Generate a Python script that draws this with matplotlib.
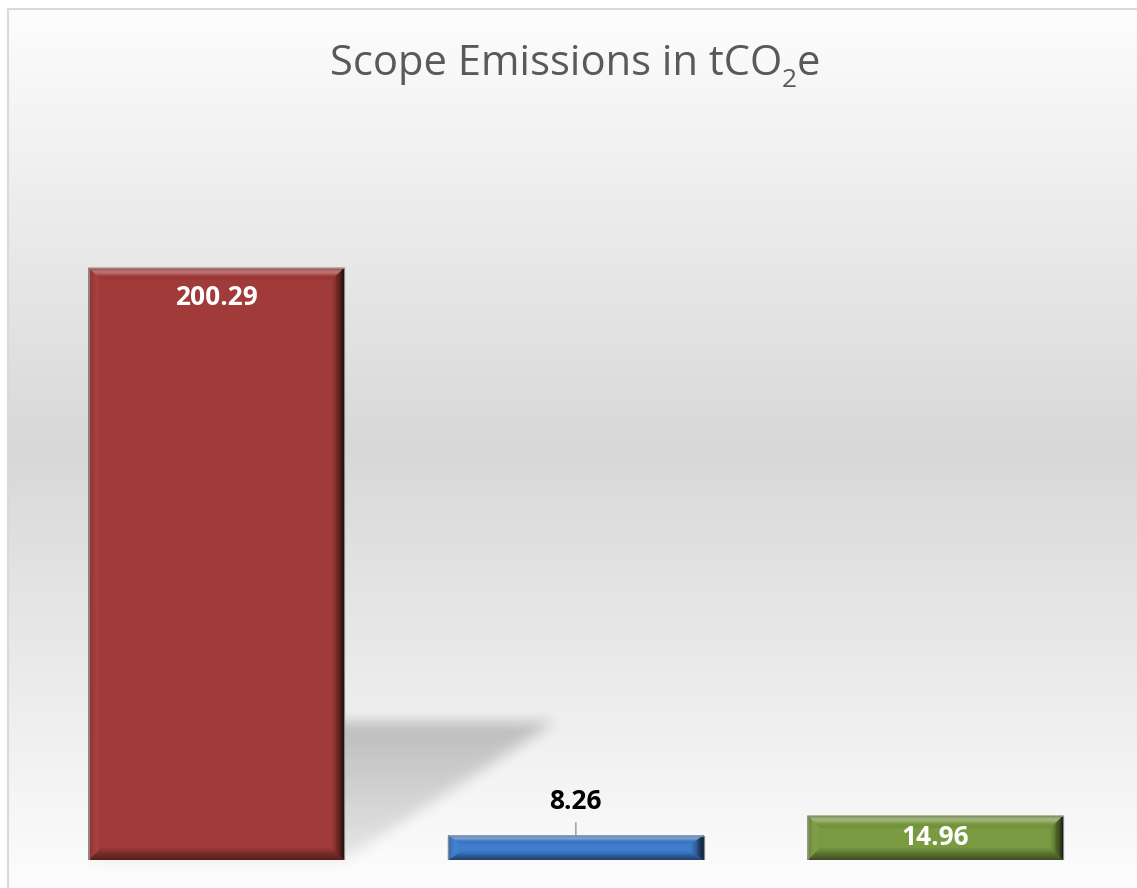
import numpy as np
import matplotlib.pyplot as plt
from matplotlib.patches import Polygon
from matplotlib.path import Path
from matplotlib.lines import Line2D
from matplotlib.transforms import IdentityTransform
import matplotlib.colors as mcolors

plt.rcParams['font.family'] = ['Open Sans', 'DejaVu Sans']

# chart data
categories = ['Scope 1', 'Scope 2', 'Scope 3']
values = [200.29, 8.26, 14.96]
bar_colors = ['#A03B39', '#3F7CCB', '#7A9A41']
label_colors = ['white', 'black', 'white']
title_parts = ['Scope Emissions in tCO', '2', 'e']

W, H = 1137, 888
fig = plt.figure(figsize=(W / 100, H / 100), dpi=100)
ax = fig.add_axes([36.75 / W, 28 / H, 1078.25 / W, 739 / H])
ax.set_xlim(-0.5, 2.5)
ax.set_ylim(0, 250)
ax.axis('off')


def shade(c, amt):
    rgb = np.array(mcolors.to_rgb(c))
    if amt >= 0:
        return tuple(rgb + (1 - rgb) * amt)
    return tuple(rgb * (1 + amt))


def blur1d(a, r, axis):
    a = np.moveaxis(a, axis, -1)
    p = np.pad(a, [(0, 0)] * (a.ndim - 1) + [(r + 1, r)], mode='edge')
    c = np.cumsum(p, axis=-1)
    out = (c[..., 2 * r + 1:] - c[..., :-2 * r - 1]) / (2 * r + 1)
    return np.moveaxis(out, -1, axis)


# background: white -> gray -> white, inside a thin frame
rows = np.arange(H)
t = np.clip((rows - 10) / (H - 10), 0, 1)
g = np.interp(t, [0, 0.5, 1], [253, 216, 253]) / 255
bg = np.ones((H, W, 3))
bg[10:, 9:, :] = g[10:, None, None]
fig.figimage(bg, 0, 0, origin='upper', zorder=-3)
fig.add_artist(Line2D([7.5 / W, 1], [1 - 9 / H, 1 - 9 / H], transform=fig.transFigure,
                      color='#d9d9d9', lw=1.5))
fig.add_artist(Line2D([8 / W, 8 / W], [0, 1 - 9 / H], transform=fig.transFigure,
                      color='#d9d9d9', lw=1.5))

bars = ax.bar(range(len(values)), values, width=0.711, color=bar_colors,
              edgecolor='#808080', linewidth=0.8, zorder=2)

# perspective shadow behind the first bar
b0 = bars[0]
sx0, sy0 = ax.transData.transform((b0.get_x(), 0))
sx1, sy1 = ax.transData.transform((b0.get_x() + b0.get_width(), b0.get_height()))
hh = sy1 - sy0
poly = np.array([(sx0, sy0), (sx1, sy0), (sx1 + 0.356 * hh, sy0 + 0.233 * hh),
                 (sx0 + 0.356 * hh, sy0 + 0.233 * hh)])
yy, xx = np.mgrid[0:H, 0:W]
pts = np.column_stack([xx.ravel() + 0.5, yy.ravel() + 0.5])
mask = Path(poly).contains_points(pts).reshape(H, W).astype(float)
for _ in range(3):
    mask = blur1d(mask, 6, 0)
    mask = blur1d(mask, 6, 1)
grad = np.clip((yy - sy0) / (0.233 * hh), 0, 1)
alpha = mask * (0.08 + 0.13 * grad)
shadow = np.zeros((H, W, 4))
shadow[..., 3] = alpha
fig.figimage(shadow, 0, 0, origin='lower', zorder=-2)

# bevel rings on each bar
n = 10
for b, col in zip(bars, bar_colors):
    x0, y0 = ax.transData.transform((b.get_x(), 0))
    x1, y1 = ax.transData.transform((b.get_x() + b.get_width(), b.get_height()))
    bw = 12
    bh = min(12, (y1 - y0) / 3)
    for k in range(n):
        fa, fb = k / n, (k + 1) / n
        f = (k + 0.5) / n
        ox0, ox1, oy0, oy1 = x0 + fa * bw, x1 - fa * bw, y0 + fa * bh, y1 - fa * bh
        ix0, ix1, iy0, iy1 = x0 + fb * bw, x1 - fb * bw, y0 + fb * bh, y1 - fb * bh
        sides = [
            ([(ox0, oy1), (ox1, oy1), (ix1, iy1), (ix0, iy1)],
             0.38 * np.exp(-((f - 0.35) / 0.25) ** 2) - 0.06),
            ([(ox1, oy1), (ox1, oy0), (ix1, iy0), (ix1, iy1)],
             -0.8 * (1 - f) ** 1.2 - 0.05),
            ([(ox0, oy0), (ox1, oy0), (ix1, iy0), (ix0, iy0)],
             -0.5 * (1 - f) - 0.04),
            ([(ox0, oy0), (ox0, oy1), (ix0, iy1), (ix0, iy0)],
             0.12 * np.sin(np.pi * f) - 0.2 * (1 - f)),
        ]
        for pts_, amt in sides:
            c = shade(col, amt)
            ax.add_patch(Polygon(pts_, closed=True, transform=IdentityTransform(),
                                 facecolor=c, edgecolor=c, lw=0.3, zorder=3))
    ax.add_patch(Polygon([(x0, y0), (x1, y0), (x1, y1), (x0, y1)], closed=True,
                         transform=IdentityTransform(), fill=False,
                         edgecolor='#8a8a8a', lw=0.8, zorder=4))

# data labels
lab_kw = dict(ha='center', va='center', fontsize=19, fontweight='bold', zorder=5)
ax.annotate(f'{values[0]:.2f}', xy=(0, values[0]), xytext=(0, -30),
            textcoords='offset pixels', color=label_colors[0], **lab_kw)
ax.annotate('', xy=(1, values[1]), xytext=(0, 13), textcoords='offset pixels',
            arrowprops=dict(arrowstyle='-', color='#8c8c8c', lw=0.9,
                            shrinkA=0, shrinkB=0), zorder=5)
ax.annotate(f'{values[1]:.2f}', xy=(1, values[1]), xytext=(0, 34),
            textcoords='offset pixels', color=label_colors[1], **lab_kw)
ax.annotate(f'{values[2]:.2f}', xy=(2, values[2] / 2), xytext=(0, 0),
            textcoords='offset pixels', color=label_colors[2], **lab_kw)

# title with a real subscript, laid out piece by piece
renderer = fig.canvas.get_renderer()
sizes = [30, 19, 30]
drops = [0, 12, 0]
texts = [fig.text(0, 0, s, fontsize=fs, color='#595959', va='baseline',
                  transform=IdentityTransform())
         for s, fs in zip(title_parts, sizes)]
widths = [tx.get_window_extent(renderer).width for tx in texts]
x = 575 - sum(widths) / 2
base = H - 75
for tx, w, d in zip(texts, widths, drops):
    tx.set_position((x, base - d))
    x += w

fig.savefig('out.png', dpi=100)
